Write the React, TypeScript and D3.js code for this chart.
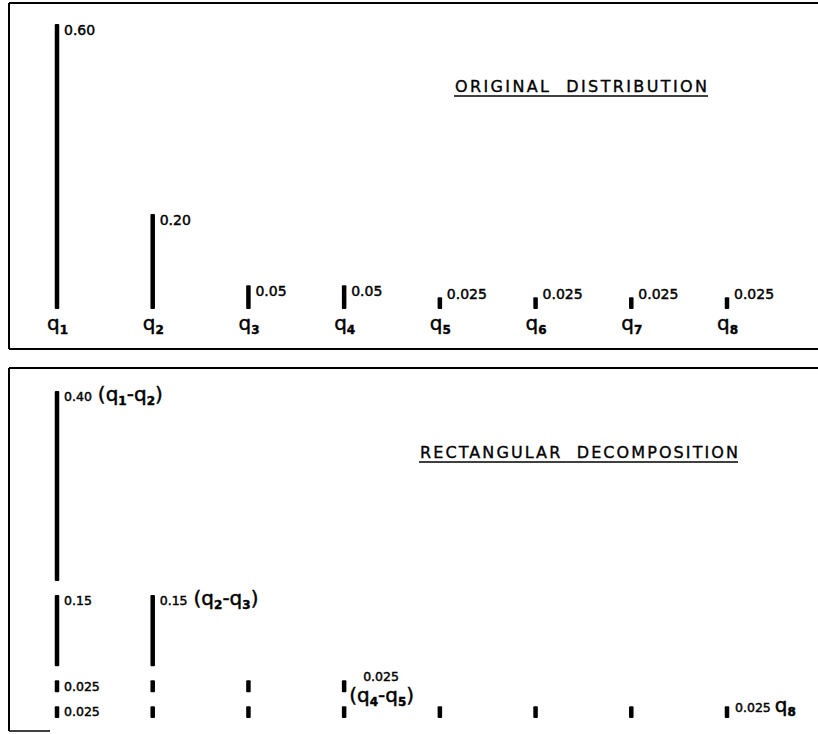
import React from "react";
import * as d3 from "d3";

const categories = ["1", "2", "3", "4", "5", "6", "7", "8"];
const originalValues = [0.6, 0.2, 0.05, 0.05, 0.025, 0.025, 0.025, 0.025];
const originalLabels = ["0.60", "0.20", "0.05", "0.05", "0.025", "0.025", "0.025", "0.025"];

// rectangular decomposition layers (bottom to top)
const layerValues = [0.025, 0.025, 0.15, 0.4];
const layerColumnCounts = [8, 4, 2, 1];
const layerFirstLabels = ["0.025", "0.025", "0.15", "0.40"];
const layerSecondLabels = ["0.025", "0.025", "0.15", ""];
const layerSecondColumn = [8, 4, 2, 1];
const layerSecondRange = [["8"], ["4", "5"], ["2", "3"], ["1", "2"]];

const titleTop = "ORIGINAL  DISTRIBUTION";
const titleBottom = "RECTANGULAR  DECOMPOSITION";

const W = 818;
const H = 734;
const FONT = "'DejaVu Sans', 'Liberation Sans', sans-serif";

function QSub({ x, y, sub, size = 20, subSize = 12 }: { x: number; y: number; sub: string; size?: number; subSize?: number }) {
  return (
    <text x={x} y={y} fontFamily={FONT} fontSize={size} fill="#000" stroke="#000" strokeWidth={0.4}>
      q<tspan fontSize={subSize} dy={4} fontWeight="bold">{sub}</tspan>
    </text>
  );
}

function Range({ a, b, dx = 0, size = 20, subSize = 12 }: { a: string; b: string; dx?: number; size?: number; subSize?: number }) {
  return (
    <>
      <tspan fontSize={size} dx={dx}>(q</tspan>
      <tspan fontSize={subSize} dy={4} fontWeight="bold">{a}</tspan>
      <tspan fontSize={size} dy={-4}>-q</tspan>
      <tspan fontSize={subSize} dy={4} fontWeight="bold">{b}</tspan>
      <tspan fontSize={size} dy={-4}>)</tspan>
    </>
  );
}

export default function App() {
  const x = d3.scalePoint<string>().domain(categories).range([57, 727]);
  const yTop = d3.scaleLinear().domain([0, 0.6]).range([309, 24]);
  const h = d3.scaleLinear().domain([0, 0.4]).range([0, 190]);
  const barW = 4.5;

  const baseBottom = 718;
  const gap = 14;
  const layers: { y0: number; y1: number }[] = [];
  let cur = baseBottom;
  layerValues.forEach((v) => {
    const y1 = cur;
    const y0 = cur - h(v);
    layers.push({ y0, y1 });
    cur = y0 - gap;
  });

  const valFont = { fontFamily: FONT, fontSize: 14, fill: "#000", stroke: "#000", strokeWidth: 0.45 };
  const smallFont = { fontFamily: FONT, fontSize: 12.5, fill: "#000", stroke: "#000", strokeWidth: 0.45 };

  return (
    <svg width={W} height={H} style={{ position: "absolute", left: 0, top: 0, background: "#fff" }}>
      <rect x={0} y={0} width={W} height={H} fill="#fff" />
      {/* top panel frame */}
      <line x1={9} y1={3} x2={W} y2={3} stroke="#000" strokeWidth={2} />
      <line x1={9} y1={3} x2={9} y2={349} stroke="#000" strokeWidth={2} />
      <line x1={9} y1={349} x2={W} y2={349} stroke="#000" strokeWidth={2.2} />
      {/* bottom panel frame */}
      <line x1={9} y1={368} x2={W} y2={368} stroke="#000" strokeWidth={2} />
      <line x1={9} y1={368} x2={9} y2={731} stroke="#000" strokeWidth={2} />
      <line x1={9} y1={731} x2={50} y2={731} stroke="#000" strokeWidth={1.5} />

      {/* top title */}
      <text x={455} y={92} fontFamily={FONT} fontSize={16} textLength={252} lengthAdjust="spacing" fill="#000" stroke="#000" strokeWidth={0.35} style={{ whiteSpace: "pre" }}>
        {titleTop}
      </text>
      <line x1={454} y1={96} x2={708} y2={96} stroke="#000" strokeWidth={1.5} />

      {/* original distribution */}
      {categories.map((c, i) => {
        const top = yTop(originalValues[i]);
        const base = yTop(0);
        const labelY = Math.min(top + 11, base - 10);
        return (
          <g key={c}>
            <rect x={(x(c) as number) - barW / 2} y={top} width={barW} height={base - top} rx={1} fill="#000" />
            <text x={(x(c) as number) + 7} y={labelY} {...valFont}>
              {originalLabels[i]}
            </text>
            <QSub x={(x(c) as number) - 10} y={330} sub={c} />
          </g>
        );
      })}

      {/* bottom title */}
      <text x={420} y={458} fontFamily={FONT} fontSize={16} textLength={318} lengthAdjust="spacing" fill="#000" stroke="#000" strokeWidth={0.35} style={{ whiteSpace: "pre" }}>
        {titleBottom}
      </text>
      <line x1={419} y1={462} x2={738} y2={462} stroke="#000" strokeWidth={1.5} />

      {/* rectangular decomposition */}
      {layerValues.map((v, li) => {
        const { y0, y1 } = layers[li];
        const cols = categories.slice(0, layerColumnCounts[li]);
        const labelY = y0 + 10;
        const firstX = (x(categories[0]) as number) + 7;
        const secondCol = categories[layerSecondColumn[li] - 1];
        const secondX = (x(secondCol) as number) + 7;
        const rng = layerSecondRange[li];
        return (
          <g key={li}>
            {cols.map((c) => (
              <rect key={c} x={(x(c) as number) - barW / 2} y={y0} width={barW} height={y1 - y0} rx={1} fill="#000" />
            ))}
            {li === 3 && (
              <text x={firstX} y={labelY} {...smallFont}>
                {layerFirstLabels[li]}
                <Range a={rng[0]} b={rng[1]} dx={6} />
              </text>
            )}
            {li === 2 && (
              <>
                <text x={firstX} y={labelY} {...smallFont}>
                  {layerFirstLabels[li]}
                </text>
                <text x={secondX} y={labelY} {...smallFont}>
                  {layerSecondLabels[li]}
                  <Range a={rng[0]} b={rng[1]} dx={6} />
                </text>
              </>
            )}
            {li === 1 && (
              <>
                <text x={firstX} y={labelY + 1} {...smallFont}>
                  {layerFirstLabels[li]}
                </text>
                <text x={secondX + 12} y={y0 + 1} {...smallFont}>
                  {layerSecondLabels[li]}
                </text>
                <text x={secondX - 2} y={y0 + 22} {...smallFont}>
                  <Range a={rng[0]} b={rng[1]} />
                </text>
              </>
            )}
            {li === 0 && (
              <>
                <text x={firstX} y={labelY} {...smallFont}>
                  {layerFirstLabels[li]}
                </text>
                <text x={secondX + 1} y={y0 + 6} {...smallFont}>
                  {layerSecondLabels[li]}
                  <tspan fontSize={20} dx={4}>q</tspan>
                  <tspan fontSize={12} dy={4} fontWeight="bold">{rng[0]}</tspan>
                </text>
              </>
            )}
          </g>
        );
      })}
    </svg>
  );
}
